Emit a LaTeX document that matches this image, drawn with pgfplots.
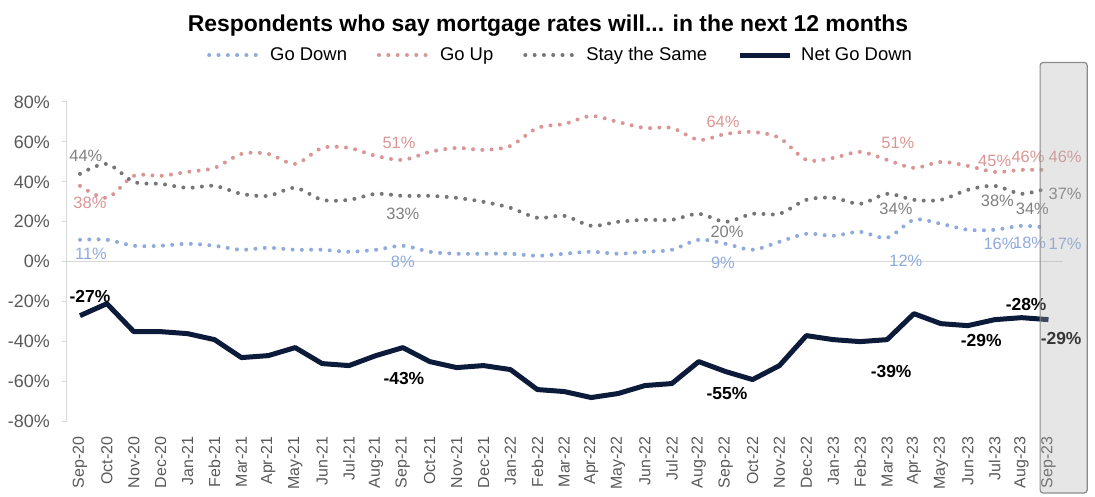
\documentclass[border=0pt]{standalone}
\usepackage{pgfplots}
\pgfplotsset{compat=1.18}
\usepackage{pgfplotstable}
\usepackage{fontspec}
\setmainfont{Liberation Sans}
\definecolor{cdown}{HTML}{8FAADC}
\definecolor{cup}{HTML}{D99694}
\definecolor{csame}{HTML}{767676}
\definecolor{csamel}{HTML}{7F7F7F}
\definecolor{cnet}{HTML}{0D1B3A}
\definecolor{ctick}{HTML}{595959}
\definecolor{caxis}{HTML}{D9D9D9}
\definecolor{cboxfill}{HTML}{AFAFAF}
\definecolor{cboxdraw}{HTML}{8A8A8A}
\tikzset{
  lbl/.style={font=\fontsize{16.5}{18}\selectfont, inner sep=0pt, anchor=center},
  nlbl/.style={font=\bfseries\fontsize{17.5}{19}\selectfont, inner sep=0pt, anchor=center, text=black},
}

\pgfplotstableread{
m down up same net
0 11 38 44 -27
1 11 32 49 -21
2 8 43 40 -35
3 8 43 39 -35
4 9 45 37 -36
5 8 47 38 -39
6 6 54 34 -48
7 7 54 33 -47
8 6 49 37 -43
9 6 57 31 -51
10 5 57 31 -52
11 6 53 34 -47
12 8 51 33 -43
13 5 55 33 -50
14 4 57 32 -53
15 4 56 30 -52
16 4 58 27 -54
17 3 67 22 -64
18 4 69 23 -65
19 5 73 18 -68
20 4 70 20 -66
21 5 67 21 -62
22 6 67 21 -61
23 11 61 24 -50
24 9 64 20 -55
25 6 65 24 -59
26 10 62 24 -52
27 14 51 31 -37
28 13 52 32 -39
29 15 55 29 -40
30 12 51 34 -39
31 21 47 31 -26
32 19 50 31 -31
33 16 48 36 -32
34 16 45 38 -29
35 18 46 34 -28
36 17 46 37 -29
}\data

\begin{document}
\begin{tikzpicture}
\begin{axis}[
  scale only axis, width=996bp, height=319.5bp,
  xmin=-0.483, xmax=36.54, ymin=-80, ymax=80,
  clip=false,
  axis lines=left,
  axis line style={-},
  x axis line style={draw=none},
  y axis line style={draw=caxis, line width=1bp},
  ytick={-80,-60,...,80},
  yticklabels={-80\%,-60\%,-40\%,-20\%,0\%,20\%,40\%,60\%,80\%},
  ytick style={draw=caxis, line width=1bp},
  tick align=outside, major tick length=5bp,
  yticklabel style={font=\fontsize{18}{20}\selectfont, text=ctick, inner sep=0pt, xshift=-12bp},
  xtick={0,...,36},
  xticklabels={Sep-20,Oct-20,Nov-20,Dec-20,Jan-21,Feb-21,Mar-21,Apr-21,May-21,Jun-21,Jul-21,Aug-21,Sep-21,Oct-21,Nov-21,Dec-21,Jan-22,Feb-22,Mar-22,Apr-22,May-22,Jun-22,Jul-22,Aug-22,Sep-22,Oct-22,Nov-22,Dec-22,Jan-23,Feb-23,Mar-23,Apr-23,May-23,Jun-23,Jul-23,Aug-23,Sep-23},
  xtick style={draw=none},
  xticklabel style={font=\fontsize{16}{18}\selectfont, text=ctick, rotate=90, anchor=east, inner sep=0pt, xshift=-10bp},
  legend columns=4,
  legend style={at={(0.4945,1.147)}, anchor=center, draw=none, fill=none, font=\fontsize{18.5}{20}\selectfont, inner sep=0pt, nodes={inner sep=0pt}, /tikz/every even column/.append style={column sep=30bp}},
  legend image code/.code={\draw[#1] (0bp,0bp) -- (50bp,0bp); \path (59bp,0bp);},
]
\coordinate (BL) at (rel axis cs:0,0);
\draw[caxis, line width=1bp] (axis cs:-0.669,0) -- (axis cs:36.54,0);

\addplot[cdown, line width=4bp, line cap=round, dash pattern=on 0bp off 9.3bp, smooth] table[x=m,y=down]{\data};
\addlegendentry{Go Down}
\addplot[cup, line width=4bp, line cap=round, dash pattern=on 0bp off 9.3bp, smooth] table[x=m,y=up]{\data};
\addlegendentry{Go Up}
\addplot[csame, line width=4bp, line cap=round, dash pattern=on 0bp off 9.3bp, smooth] table[x=m,y=same]{\data};
\addlegendentry{Stay the Same}
\addplot[cnet, line width=5bp, line join=round] table[x=m,y=net]{\data};
\addlegendentry{Net Go Down}

% data labels
\node[lbl, text=csamel] at (axis cs:0.22,53.2) {44\%};
\node[lbl, text=cup] at (axis cs:0.37,29.7) {38\%};
\node[lbl, text=cdown] at (axis cs:0.41,4.0) {11\%};
\node[nlbl] at (axis cs:0.37,-17.6) {-27\%};

\node[lbl, text=cup] at (axis cs:11.86,59.3) {51\%};
\node[lbl, text=csamel] at (axis cs:12.0,24.2) {33\%};
\node[lbl, text=cdown] at (axis cs:12.0,0) {8\%};
\node[nlbl] at (axis cs:12.04,-58.7) {-43\%};

\node[lbl, text=cup] at (axis cs:23.9,70.2) {64\%};
\node[lbl, text=csamel] at (axis cs:24.05,15.2) {20\%};
\node[lbl, text=cdown] at (axis cs:23.9,-0.4) {9\%};
\node[nlbl] at (axis cs:24.05,-66.2) {-55\%};

\node[lbl, text=cup] at (axis cs:30.4,59.7) {51\%};
\node[lbl, text=csamel] at (axis cs:30.33,26.7) {34\%};
\node[lbl, text=cdown] at (axis cs:30.7,0.5) {12\%};
\node[nlbl] at (axis cs:30.15,-55.2) {-39\%};

\node[lbl, text=cup] at (axis cs:34.0,50.7) {45\%};
\node[lbl, text=csamel] at (axis cs:34.1,30.6) {38\%};
\node[lbl, text=cdown] at (axis cs:34.2,9.0) {16\%};
\node[nlbl] at (axis cs:33.5,-39.6) {-29\%};

\node[lbl, text=cup] at (axis cs:35.24,52.3) {46\%};
\node[lbl, text=csamel] at (axis cs:35.4,26.7) {34\%};
\node[lbl, text=cdown] at (axis cs:35.3,9.7) {18\%};
\node[nlbl] at (axis cs:35.17,-21.6) {-28\%};

\node[lbl, text=cup] at (axis cs:36.62,52.3) {46\%};
\node[lbl, text=csamel] at (axis cs:36.62,34.1) {37\%};
\node[lbl, text=cdown] at (axis cs:36.62,9.0) {17\%};
\node[nlbl] at (axis cs:36.47,-38.6) {-29\%};

% highlight box
\fill[cboxfill, fill opacity=0.31, rounded corners=3bp] (axis cs:35.69,99.8) rectangle (axis cs:37.44,-115.8);
\draw[cboxdraw, line width=1.2bp, rounded corners=3bp] (axis cs:35.69,99.8) rectangle (axis cs:37.44,-115.8);

\node[anchor=base, font=\bfseries\fontsize{23}{25}\selectfont] at (rel axis cs:0.483,1.2194) {Respondents who say mortgage rates will... in the next 12 months};
\end{axis}
\pgfresetboundingbox
\path[use as bounding box] (BL) ++(-67bp,-75.5bp) rectangle ++(1095bp,497bp);
\end{tikzpicture}
\end{document}
